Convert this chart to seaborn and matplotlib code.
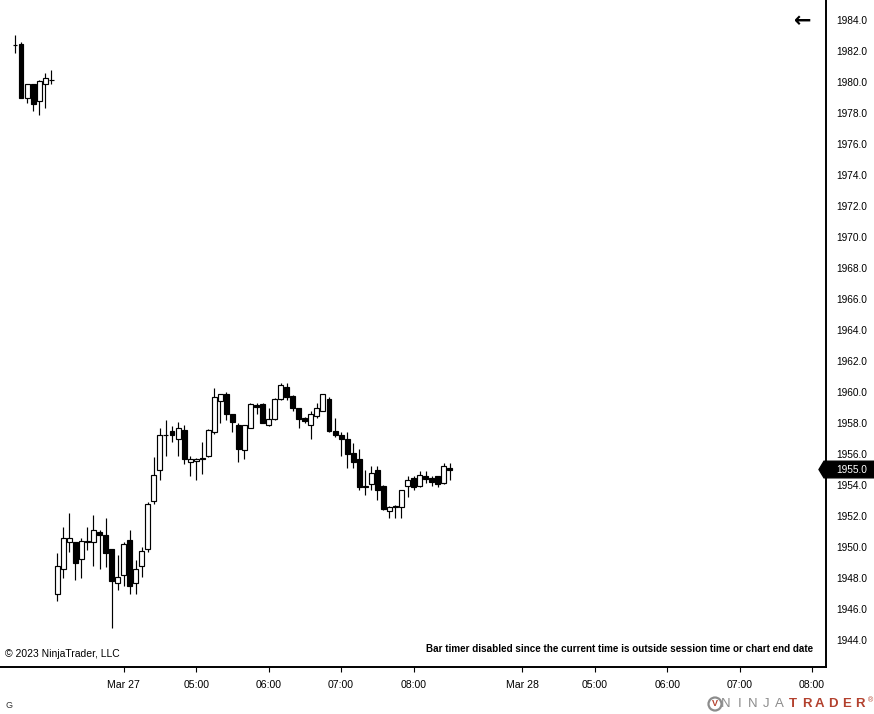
import numpy as np
import pandas as pd
import matplotlib
matplotlib.use("Agg")
import matplotlib.pyplot as plt
import matplotlib.transforms as mtransforms
from matplotlib.patches import Polygon, Circle
import seaborn as sns

# 5-minute bars
opens = [1982.4, 1982.45, 1979.0, 1979.85, 1978.8, 1979.9, 1980.1,
         1947.0, 1948.6, 1950.3, 1950.3, 1949.2, 1950.4, 1950.3, 1951.0, 1950.75, 1949.85,
         1947.65, 1948.2, 1950.45, 1947.65, 1948.75, 1949.85, 1952.95, 1954.95, 1957.2, 1957.5,
         1957.0, 1957.55, 1955.5, 1955.55, 1955.75, 1955.85, 1957.4, 1959.45, 1959.9, 1958.55,
         1957.9, 1956.25, 1957.7, 1959.15, 1959.2, 1957.9, 1958.25, 1959.55, 1960.3, 1959.75,
         1958.95, 1958.3, 1957.9, 1958.45, 1958.8, 1959.55, 1957.5, 1957.2, 1957.0, 1956.05,
         1955.65, 1953.95, 1954.05, 1954.95, 1953.95, 1952.3, 1952.65, 1952.55, 1953.95, 1954.45,
         1953.95, 1954.6, 1954.45, 1954.55, 1954.1, 1955.1]
highs = [1983.0, 1982.55, 1979.85, 1979.85, 1980.1, 1980.55, 1980.8,
         1949.6, 1951.3, 1952.2, 1950.3, 1950.55, 1951.3, 1952.05, 1951.1, 1951.85, 1949.85,
         1949.5, 1950.35, 1951.1, 1949.15, 1950.0, 1952.9, 1955.8, 1957.65, 1958.2, 1957.8,
         1958.05, 1957.85, 1955.85, 1955.75, 1956.8, 1957.6, 1960.25, 1959.9, 1960.0, 1958.6,
         1958.0, 1957.9, 1959.3, 1959.3, 1959.3, 1959.0, 1959.6, 1960.55, 1960.6, 1959.8,
         1959.0, 1958.4, 1958.8, 1959.3, 1959.9, 1959.65, 1958.3, 1957.4, 1957.4, 1956.7,
         1956.35, 1955.0, 1955.2, 1955.2, 1954.0, 1952.65, 1952.7, 1953.7, 1954.6, 1954.6,
         1954.9, 1954.9, 1954.6, 1954.6, 1955.45, 1955.45]
lows = [1981.85, 1979.0, 1978.65, 1978.1, 1977.85, 1978.35, 1979.85,
        1946.55, 1948.0, 1949.7, 1947.9, 1948.0, 1949.8, 1948.8, 1948.6, 1948.7, 1944.75,
        1947.2, 1947.5, 1946.95, 1947.0, 1948.05, 1949.65, 1952.8, 1954.3, 1955.85, 1956.75,
        1955.85, 1955.35, 1954.6, 1954.3, 1954.7, 1955.8, 1957.3, 1958.0, 1958.2, 1957.45,
        1955.5, 1955.7, 1957.65, 1958.55, 1958.0, 1957.8, 1958.2, 1959.5, 1959.5, 1958.75,
        1957.7, 1958.0, 1957.0, 1958.35, 1958.75, 1957.45, 1957.1, 1955.85, 1955.1, 1955.1,
        1953.7, 1953.35, 1953.7, 1953.05, 1952.4, 1951.85, 1951.85, 1951.85, 1953.2, 1953.7,
        1953.9, 1954.1, 1953.95, 1953.9, 1954.05, 1954.3]
closes = [1982.4, 1979.0, 1979.85, 1978.6, 1980.05, 1980.25, 1980.1,
          1948.75, 1950.55, 1950.55, 1949.0, 1950.4, 1950.3, 1951.1, 1950.75, 1949.6, 1947.8,
          1948.05, 1950.2, 1947.5, 1948.6, 1949.75, 1952.75, 1954.65, 1957.2, 1957.2, 1957.2,
          1957.65, 1955.65, 1955.7, 1955.7, 1955.65, 1957.55, 1959.65, 1959.85, 1958.55, 1958.05,
          1956.3, 1957.85, 1959.25, 1959.05, 1958.0, 1958.25, 1959.55, 1960.45, 1959.65, 1959.0,
          1958.25, 1958.1, 1958.55, 1958.95, 1959.85, 1957.5, 1957.2, 1957.0, 1956.0, 1955.5,
          1953.9, 1953.9, 1954.8, 1953.7, 1952.45, 1952.6, 1952.55, 1953.65, 1954.3, 1953.85,
          1954.65, 1954.4, 1954.2, 1954.05, 1955.2, 1955.0]

# time axis labels sit on bar slots (the axis runs on into the next session)
time_tick_slots = [18, 30, 42, 54, 66, 84, 96, 108, 120, 132]
time_tick_labels = ["Mar 27", "05:00", "06:00", "07:00", "08:00",
                    "Mar 28", "05:00", "06:00", "07:00", "08:00"]
price_ticks = np.arange(1944, 1985, 2)

df = pd.DataFrame({"open": opens, "high": highs, "low": lows, "close": closes})
df["slot"] = np.arange(len(df))
df["up"] = df["close"] >= df["open"]

sns.set_theme(style="white")
plt.rcParams["font.family"] = ["Liberation Sans", "DejaVu Sans"]

fig = plt.figure(figsize=(8.74, 7.14), dpi=100)
ax = fig.add_axes([0, 47 / 714, 826 / 874, 667 / 714])

# wicks then bodies
ax.vlines(df["slot"], df["low"], df["high"], color="black", lw=0.85, zorder=1)
ax.bar(df["slot"], df["close"] - df["open"], bottom=df["open"], width=0.82,
       color=np.where(df["up"], "white", "black"), edgecolor="black",
       linewidth=0.85, zorder=2)

ax.set_xlim(-2.48, 134.3)
ax.set_ylim(1942.26, 1985.29)

ax.set_xticks(time_tick_slots)
ax.set_xticklabels(time_tick_labels)
ax.set_yticks(price_ticks)
ax.set_yticklabels([f"{p:.1f}" for p in price_ticks])
ax.yaxis.tick_right()
ax.tick_params(axis="y", which="both", right=True, left=False, length=3.6, width=0.8,
               pad=3.6, labelsize=7.3, colors="black")
ax.tick_params(axis="x", bottom=True, length=3.6, width=0.8, pad=5.5, labelsize=7.6,
               colors="black")
ax.set_xlabel("")
ax.set_ylabel("")
ax.grid(False)

sns.despine(ax=ax, left=True, top=True, right=False, bottom=False)
for side in ("right", "bottom"):
    ax.spines[side].set_color("black")
    ax.spines[side].set_linewidth(1.4)

# last price marker on the price axis
last = df["close"].iloc[-1]
blend = mtransforms.blended_transform_factory(ax.transAxes, ax.transData)
tag_tr = mtransforms.Affine2D() + mtransforms.ScaledTranslation(1.0, last, blend)
tag = Polygon([(-7, 0), (-2, 8.3), (48, 8.3), (48, -8.3), (-2, -8.3)], closed=True,
              transform=tag_tr, facecolor="black", edgecolor="black", clip_on=False,
              zorder=5)
ax.add_patch(tag)
ax.annotate(f"{last:.1f}", xy=(1.0, last), xycoords=blend, xytext=(7.4, 0),
            textcoords="offset points", ha="left", va="center", color="white",
            fontsize=7.3, zorder=6, annotation_clip=False)

ax.text(0.972, 0.969, "\u2190", transform=ax.transAxes, ha="center", va="center",
        fontsize=15, fontweight="bold", family=["DejaVu Sans"], color="black")
ax.text(0.006, 0.0195, "\u00a9 2023 NinjaTrader, LLC", transform=ax.transAxes,
        ha="left", va="center", fontsize=7.5, color="black")
ax.text(0.9843, 0.027,
        "Bar timer disabled since the current time is outside session time or chart end date",
        transform=ax.transAxes, ha="right", va="center", fontsize=7.15,
        fontweight="bold", color="black")

fig.text(5 / 874, 9 / 714, "G", ha="left", va="center", fontsize=6.5, color="#333333")

# NinjaTrader logo
logo = Circle((715, 10), 6.5, transform=mtransforms.IdentityTransform(),
              facecolor="white", edgecolor="#8c8c8c", linewidth=1.6)
fig.patches.append(logo)
fig.text(715 / 874, 10 / 714, "V", ha="center", va="center", fontsize=6.5,
         fontweight="bold", color="#b3412e")
for k, ch in enumerate("NINJATRADER"):
    fig.text((726 + 13.4 * k) / 874, 10 / 714, ch, ha="center", va="center",
             fontsize=9.5, color="#8c8c8c" if k < 5 else "#b3412e",
             fontweight="normal" if k < 5 else "bold")
fig.text(870 / 874, 13 / 714, "\u00ae", ha="center", va="center", fontsize=5,
         color="#b3412e")

fig.savefig("out.png", dpi=100)
